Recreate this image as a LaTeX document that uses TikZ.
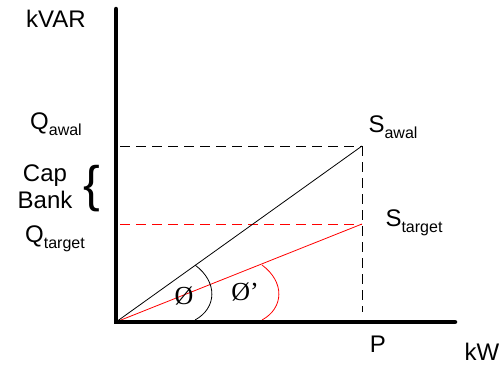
\documentclass[tikz,border=0pt]{standalone}
\usepackage{fontspec}
\setmainfont{Liberation Sans}
\newfontfamily\serifph{Liberation Serif}
\newcommand\lsub[1]{\raisebox{-5.5pt}{\fontsize{16}{18}\selectfont #1}}
\tikzset{
  axisline/.style={line width=4.5pt, line cap=round},
  lbl/.style={inner sep=0pt, font=\fontsize{24}{27}\selectfont},
  guide/.style={line width=0.8pt, dash pattern=on 10pt off 6pt},
}
\begin{document}
\begin{tikzpicture}[x=1pt,y=-1pt]
\useasboundingbox (0,0) rectangle (504,367);
\coordinate (O) at (116,322);
\coordinate (ytop) at (116,9);
\coordinate (xend) at (455,322);
\coordinate (Sa) at (362,146);
\coordinate (St) at (362,224);
\coordinate (qa) at (120,146);
\coordinate (qt) at (120,224);
\coordinate (pb) at (362,312);
% guides
\draw[guide, black] (qa) -- (Sa);
\draw[guide, red] (qt) -- (St);
\draw[guide, black] (Sa) -- (pb);
% vectors
\draw[line width=0.8pt] (O) -- (Sa);
\draw[line width=0.8pt, red] (O) -- (St);
% arcs
\draw[line width=0.8pt] (195,265) .. controls (218,282) and (217,308) .. (195,320);
\draw[line width=0.8pt, red] (262,265) .. controls (285,282) and (284,308) .. (262,320);
% axes
\draw[axisline] (ytop) -- (O) -- (xend);
% labels
\node[lbl] (kvar) at (56,19) {kVAR};
\node[lbl] (qawal) at (56,124) {Q\lsub{awal}};
\node[lbl, align=center] (cap) at (45,187) {Cap\\Bank};
\node[inner sep=0pt, font=\fontsize{50}{52}\selectfont] (brace) at (92,189) {\{};
\node[lbl] (qtarget) at (55,239) {Q\lsub{target}};
\node[lbl] (sawal) at (393,127) {S\lsub{awal}};
\node[lbl] (starget) at (414,223) {S\lsub{target}};
\node[lbl] (p) at (378,344) {P};
\node[lbl] (kw) at (482,352) {kW};
\node[inner sep=0pt, font=\serifph\fontsize{26}{28}\selectfont] (phi) at (184,296) {Ø};
\node[inner sep=0pt, font=\serifph\fontsize{26}{28}\selectfont] (phip) at (245,292) {Ø’};
\end{tikzpicture}
\end{document}
